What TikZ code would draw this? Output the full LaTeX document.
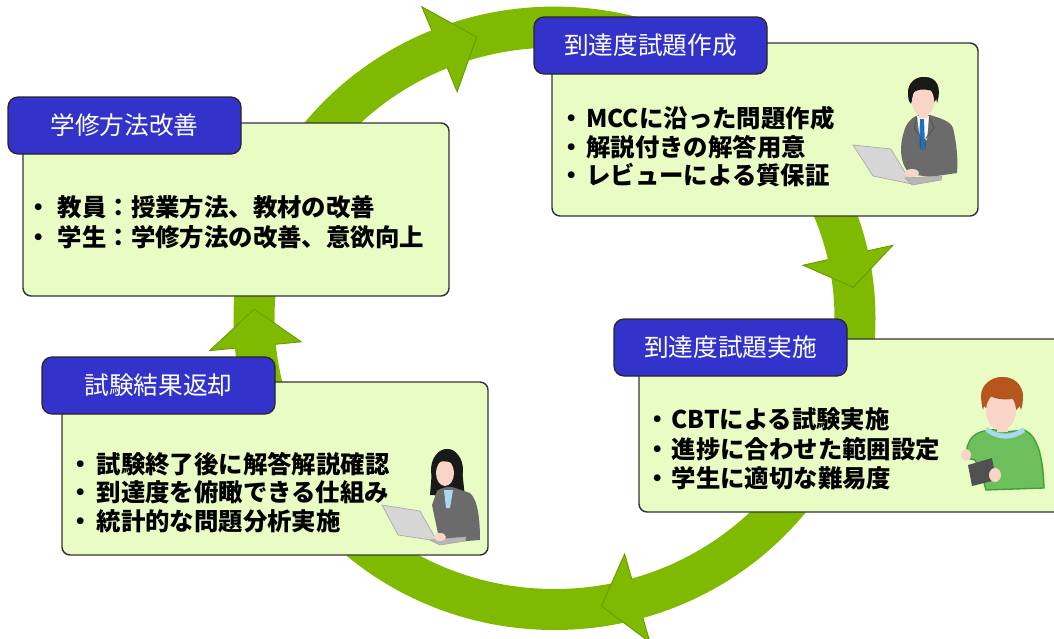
\documentclass[tikz,border=0pt]{standalone}
\usepackage{fontspec}
\newfontfamily\jp{Noto Sans CJK JP}

\definecolor{ringgreen}{HTML}{7FBA00}
\definecolor{headedge}{HTML}{6A9A00}
\definecolor{capblue}{HTML}{3333CC}
\definecolor{panelfill}{HTML}{E9FCC4}
\definecolor{skin}{HTML}{F8D5C6}
\definecolor{suitgray}{HTML}{6B6B6B}
\definecolor{suitdark}{HTML}{4E4E4E}
\definecolor{laptop}{HTML}{D6D6D6}
\definecolor{laptopedge}{HTML}{A8A8A8}
\definecolor{tie}{HTML}{1C72C0}
\definecolor{hairbrown}{HTML}{B4561E}
\definecolor{sweater}{HTML}{6DBF5C}
\definecolor{sweateredge}{HTML}{3E9E3A}
\definecolor{collar}{HTML}{A9D8F2}
\definecolor{tablet}{HTML}{505050}

\newcommand\pxu{0.75pt}
% arrow head on the ring: #1 = tip angle, #2 = angle of the back edge
\newcommand\ringhead[2]{%
  \fill[ringgreen]
    ({554.5+300.5*cos(#1)},{-318.3+291.2*sin(#1)})
    -- ({554.5+346.5*cos(#2)},{-318.3+337.2*sin(#2)})
    -- ({554.5+254.5*cos(#2)},{-318.3+245.2*sin(#2)}) -- cycle;
  \draw[headedge, line width=0.7pt, line join=miter]
    ({554.5+321*cos(#2)},{-318.3+312*sin(#2)})
    -- ({554.5+346.5*cos(#2)},{-318.3+337.2*sin(#2)})
    -- ({554.5+300.5*cos(#1)},{-318.3+291.2*sin(#1)})
    -- ({554.5+254.5*cos(#2)},{-318.3+245.2*sin(#2)})
    -- ({554.5+280*cos(#2)},{-318.3+271*sin(#2)});}

\tikzset{
  panelbox/.style={draw=black!80, line width=1.1pt, fill=panelfill,
    rounded corners=6pt, inner sep=0pt, outer sep=0pt, anchor=north west,
    minimum width=426*\pxu, minimum height=173*\pxu},
  capbox/.style={draw=black!85, line width=0.9pt, fill=capblue,
    rounded corners=7.5pt, inner sep=0pt, outer sep=0pt, anchor=north west,
    minimum width=233*\pxu, minimum height=57*\pxu,
    text=white, font=\jp\fontsize{18.5}{18.5}\selectfont},
  itemtext/.style={anchor=west, inner sep=0pt,
    font=\jp\bfseries\fontsize{18.3}{20}\selectfont},
}

\begin{document}
\begin{tikzpicture}[x=0.75pt, y=0.75pt]
\useasboundingbox (0,0) rectangle (1054,-639);

% the cycle ring and its four arrow heads
\draw[ringgreen, line width=30.75pt] (554.5,-318.3) ellipse [x radius=300.5, y radius=291.2];
\ringhead{105}{112.5}
\ringhead{6.1}{12.5}
\ringhead{-81}{-74}
\ringhead{178.2}{185.5}

% panels
\node[panelbox] (pMake) at (552,-43) {};
\node[panelbox] (pImprove) at (23,-123) {};
\node[panelbox, minimum width=440*\pxu] (pRun) at (639,-339) {};
\node[panelbox] (pReturn) at (62,-382) {};

% captions
\node[capbox] (cMake) at (534,-17) {到達度試題作成};
\node[capbox] (cImprove) at (8,-97) {学修方法改善};
\node[capbox] (cRun) at (614,-319) {到達度試題実施};
\node[capbox] (cReturn) at (42,-357) {試験結果返却};

% bullet items
\node[itemtext] (m1) at (559,-118) {・\hspace{2pt}MCCに沿った問題作成};
\node[itemtext] (m2) at (559,-147) {・\hspace{2pt}解説付きの解答用意};
\node[itemtext] (m3) at (559,-175) {・\hspace{2pt}レビューによる質保証};

\node[itemtext] (i1) at (26,-207) {・\hspace{5.5pt}教員：授業方法、教材の改善};
\node[itemtext] (i2) at (26,-237) {・\hspace{5.5pt}学生：学修方法の改善、意欲向上};

\node[itemtext] (r1) at (645,-419) {・\hspace{1.5pt}CBTによる試験実施};
\node[itemtext] (r2) at (645,-449) {・\hspace{1.5pt}進捗に合わせた範囲設定};
\node[itemtext] (r3) at (645,-478) {・\hspace{1.5pt}学生に適切な難易度};

\node[itemtext] (e1) at (68,-464) {・\hspace{3pt}試験終了後に解答解説確認};
\node[itemtext] (e2) at (68,-492) {・\hspace{3pt}到達度を俯瞰できる仕組み};
\node[itemtext] (e3) at (68,-521) {・\hspace{3pt}統計的な問題分析実施};

% businessman at a laptop
\fill[suitgray] (906,-126) .. controls (910,-119) and (914,-116) .. (920,-115)
  -- (930,-115) .. controls (940,-118) and (950,-121) .. (953,-128)
  .. controls (957,-145) and (958,-160) .. (957,-173) -- (930,-177) -- (910,-174)
  .. controls (900,-165) and (898,-145) .. (906,-126) -- cycle;
\fill[white] (917,-116) -- (929,-116) -- (927,-140) -- (920,-140) -- cycle;
\fill[tie] (920,-119) -- (924,-119) -- (925,-146) -- (922,-151) -- (919,-146) -- cycle;
\draw[suitdark, line width=0.6pt] (917,-117) -- (914,-128) -- (920,-136) -- (921,-150);
\draw[suitdark, line width=0.6pt] (929,-117) -- (934,-128) -- (926,-138) -- (925,-150);
\fill[skin] (919,-110) rectangle (928,-118);
\fill[black!90] (923,-92) ellipse [x radius=15, y radius=15];
\fill[skin] (923,-101) ellipse [x radius=11, y radius=15];
\fill[black!90] (909,-101) .. controls (905,-86) and (914,-77) .. (925,-77)
  .. controls (937,-77) and (942,-88) .. (937,-103) -- (935,-92)
  .. controls (928,-89) and (918,-88) .. (913,-93) -- (911,-104) -- cycle;
\fill[laptop, draw=laptopedge, line width=0.5pt] (853,-145) -- (891,-149) -- (912,-184) -- (873,-176) -- cycle;
\fill[laptop!85!black, draw=laptopedge, line width=0.5pt] (905,-178) -- (942,-176) -- (941,-180) -- (912,-185) -- cycle;
\fill[skin] (912,-173) ellipse [x radius=7, y radius=4];

% boy holding a tablet
\fill[sweater, draw=sweateredge, line width=1pt] (978,-433) .. controls (990,-428) and (998,-430) .. (1005,-432)
  -- (1024,-430) .. controls (1037,-435) and (1043,-455) .. (1044,-488)
  -- (986,-490) -- (981,-472) -- (975,-460) -- (966,-458)
  .. controls (966,-445) and (970,-437) .. (978,-433) -- cycle;
\fill[skin] (997,-420) rectangle (1008,-432);
\fill[collar] (987,-427) .. controls (999,-436) and (1012,-436) .. (1023,-427)
  -- (1025,-432) .. controls (1012,-441) and (998,-441) .. (985,-431) -- cycle;
\fill[hairbrown] (1002,-396) ellipse [x radius=21, y radius=19];
\fill[skin] (1001,-411) ellipse [x radius=15, y radius=19];
\fill[hairbrown] (983,-410) .. controls (977,-390) and (989,-377) .. (1003,-377)
  .. controls (1018,-377) and (1027,-390) .. (1021,-410) -- (1017,-398)
  .. controls (1005,-401) and (993,-399) .. (987,-394) -- cycle;
\fill[skin] (966,-455) ellipse [x radius=5, y radius=6];
\fill[tablet] (968,-465) -- (992,-458) -- (996,-480) -- (972,-486) -- cycle;
\fill[skin] (995,-475) ellipse [x radius=6, y radius=7];

% businesswoman at a laptop
\fill[black!90] (447,-470) ellipse [x radius=16, y radius=21];
\fill[black!90] (432,-470) -- (462,-470) -- (465,-497) -- (430,-495) -- cycle;
\fill[suitgray] (437,-491) .. controls (445,-486) and (450,-486) .. (455,-488)
  -- (470,-493) .. controls (478,-500) and (480,-520) .. (480,-540)
  -- (440,-543) -- (432,-505) -- cycle;
\fill[collar] (444,-490) -- (453,-490) -- (450,-508) -- (446,-508) -- cycle;
\fill[skin] (445,-473) ellipse [x radius=9, y radius=13];
\fill[black!90] (434,-472) .. controls (432,-455) and (440,-449) .. (448,-449)
  .. controls (455,-449) and (460,-456) .. (458,-466)
  .. controls (452,-462) and (445,-460) .. (438,-462) -- cycle;
\fill[laptop, draw=laptopedge, line width=0.5pt] (382,-505) -- (420,-511) -- (437,-541) -- (398,-535) -- cycle;
\fill[laptop!85!black, draw=laptopedge, line width=0.5pt] (430,-540) -- (466,-537) -- (465,-541) -- (440,-545) -- cycle;
\fill[skin] (440,-537) ellipse [x radius=6, y radius=4];
\end{tikzpicture}
\end{document}
